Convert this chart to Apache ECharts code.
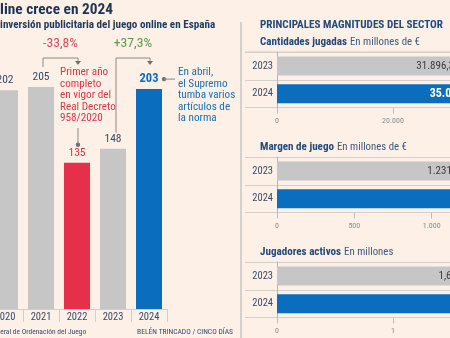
<!DOCTYPE html>
<html>
<head>
<meta charset="utf-8">
<script src="https://cdn.jsdelivr.net/npm/echarts@6/dist/echarts.min.js"></script>
<style>
  html, body { margin: 0; padding: 0; background: #fcf0e7; overflow: hidden; }
  #chart { width: 450px; height: 338px; }
</style>
</head>
<body>
<div id="chart"></div>
<script>
// Inversión publicitaria del juego online (millones de €)
const years = ['2020', '2021', '2022', '2023', '2024'];
const adSpend = [202, 205, 135, 148, 203];
const changeLabels = ['-33,8%', '+37,3%'];

// Principales magnitudes del sector
const sectorYears = ['2023', '2024'];
const wagered = [31896.3, 35074.8];      // Cantidades jugadas, millones de €
const grossMargin = [1231.6, 1402.3];    // Margen de juego, millones de €
const activePlayers = [1.62, 1.81];      // Jugadores activos, millones

const wageredTicks = [0, 20000, 40000];
const marginTicks = [0, 500, 1000, 1500];
const playersTicks = [0, 1, 2];

const FONT = '"Roboto Condensed", "Roboto", sans-serif';
const NAVY = '#1f3a5f';
const TEXT = '#3a4a68';
const GRAY_BAR = '#c6c6c6';
const RED = '#e62f4b';
const BLUE = '#0b6dbd';
const RULE = '#d3d0cc';

function fmtEs(v, dec) {
  const s = Number(v).toFixed(dec);
  const parts = s.split('.');
  const intPart = parts[0].replace(/\B(?=(\d{3})+(?!\d))/g, '.');
  return parts[1] ? intPart + ',' + parts[1] : intPart;
}

// text measuring helpers for the annotation layer
const measure = document.createElement('canvas').getContext('2d');
function textWidth(str, weight, size) {
  measure.font = weight + ' ' + size + 'px ' + FONT;
  return measure.measureText(str).width;
}
function fitSize(str, weight, width) {
  return 100 * width / textWidth(str, weight, 100);
}

const chart = echarts.init(document.getElementById('chart'), null, { renderer: 'canvas' });

function barColor(i) {
  if (i === 2) return RED;
  if (i === 4) return BLUE;
  return GRAY_BAR;
}
function barLabel(i) {
  if (i === 2) return { color: RED, fontWeight: 'normal' };
  if (i === 4) return { color: BLUE, fontWeight: 'bold', fontSize: 12.5 };
  return { color: TEXT, fontWeight: 'normal' };
}

// Horizontal panels share one layout recipe
function hPanel(idx, top, ticks) {
  return {
    grid: { left: 277, top: top, height: 55.5, width: 232, outerBoundsMode: 'none', containLabel: false },
    xAxis: {
      type: 'value', gridIndex: idx,
      min: ticks[0], max: ticks[ticks.length - 1], interval: ticks[1] - ticks[0],
      axisLine: { show: false },
      axisTick: { show: true, length: 6, lineStyle: { color: '#bdbdbd' } },
      splitLine: { show: false },
      axisLabel: { margin: 9, fontSize: 8, color: '#8a8a8a', fontFamily: FONT,
        formatter: v => fmtEs(v, 0) }
    },
    yAxis: {
      type: 'category', gridIndex: idx, data: sectorYears, inverse: true,
      axisLine: { show: true, lineStyle: { color: '#b5b5b5' } },
      axisTick: { show: true, length: 32, lineStyle: { color: RULE } },
      splitLine: { show: true, lineStyle: { color: RULE } },
      axisLabel: { margin: 4, fontSize: 10.5, color: TEXT, fontFamily: FONT }
    }
  };
}

const panels = [
  hPanel(1, 52, wageredTicks),
  hPanel(2, 157, marginTicks),
  hPanel(3, 262, playersTicks)
];
const panelData = [
  { data: wagered, dec: 1 },
  { data: grossMargin, dec: 1 },
  { data: activePlayers, dec: 2 }
];

const option = {
  backgroundColor: '#fcf0e7',
  animation: false,
  grid: [
    { left: -13, top: 38.2, width: 180, height: 270.8, outerBoundsMode: 'none', containLabel: false },
    panels[0].grid, panels[1].grid, panels[2].grid
  ],
  xAxis: [
    {
      type: 'category', gridIndex: 0, data: years,
      axisLine: { show: true, lineStyle: { color: '#cfcfcf' } },
      axisTick: { show: true, length: 13, lineStyle: { color: '#cfcfcf' } },
      axisLabel: { margin: 3, fontSize: 10.5, color: TEXT, fontFamily: FONT }
    },
    panels[0].xAxis, panels[1].xAxis, panels[2].xAxis
  ],
  yAxis: [
    { type: 'value', gridIndex: 0, min: 0, max: 250, show: false },
    panels[0].yAxis, panels[1].yAxis, panels[2].yAxis
  ],
  series: [
    {
      type: 'bar', xAxisIndex: 0, yAxisIndex: 0, barWidth: 26,
      data: adSpend.map((v, i) => ({
        value: v,
        itemStyle: { color: barColor(i) },
        label: barLabel(i)
      })),
      label: { show: true, position: 'top', distance: 4, fontSize: 11.5, fontFamily: FONT }
    }
  ].concat(panelData.map((p, k) => ({
    type: 'bar', xAxisIndex: k + 1, yAxisIndex: k + 1, barWidth: 19,
    data: p.data.map((v, i) => ({
      value: v,
      itemStyle: { color: i === 0 ? GRAY_BAR : BLUE },
      label: i === 0 ? { color: '#3c3c3c', fontWeight: 'normal' } : { color: '#ffffff', fontWeight: 'bold', fontSize: 12 }
    })),
    label: {
      show: true, position: 'insideRight', distance: 8, fontSize: 11, fontFamily: FONT,
      formatter: prm => fmtEs(prm.value, p.dec)
    }
  })))
};

chart.setOption(option);

// Annotation layer anchored to the bar positions
function px(i, v) { return chart.convertToPixel({ xAxisIndex: 0, yAxisIndex: 0 }, [i, v]); }
const p21 = px(1, adSpend[1]);
const p22 = px(2, adSpend[2]);
const p23 = px(3, adSpend[3]);
const p24 = px(4, adSpend[4]);

const lineStyle = { stroke: '#8a8a8a', lineWidth: 1, fill: null };
const bracketY = 58;

function arrow(x, y) {
  return { type: 'polygon', shape: { points: [[x - 3, y], [x + 3, y], [x, y + 4]] }, style: { fill: '#707070' } };
}
function font(weight, size) { return weight + ' ' + size.toFixed(2) + 'px ' + FONT; }

const titleSize = fitSize('line crece en 2024', 'bold', 113);
const subSize = fitSize('inversión publicitaria del juego online en España', 'bold', 215);
const srcSize = fitSize('eral de Ordenación del Juego', 'normal', 86);
const creditSize = fitSize('BELÉN TRINCADO / CINCO DÍAS', 'normal', 96);
const noteSize = fitSize('en vigor del', 'normal', 51);
const pctSize = fitSize('-33,8%', 'normal', 35);
const headSize = fitSize('PRINCIPALES MAGNITUDES DEL SECTOR', 'bold', 183);
const secBoldSize = fitSize('Cantidades jugadas', 'bold', 87);
const secUnitSize = fitSize('En millones de €', 'normal', 70);

const a1 = p21[0] + 2, b1 = p22[0] + 1;
const a2 = p23[0] + 3, b2 = p24[0] + 1;

const graphics = [
  // divider between the two blocks
  { type: 'line', shape: { x1: 241, y1: 22, x2: 241, y2: 338 }, style: { stroke: '#c9c6c2', lineWidth: 1.5 } },

  { type: 'text', x: -textWidth('El juego on', 'bold', titleSize), y: 10.5,
    style: { text: 'El juego online crece en 2024', font: font('bold', titleSize), fill: '#1c3553', textVerticalAlign: 'middle' } },
  { type: 'text', x: -textWidth('Evolución de la ', 'bold', subSize), y: 25.5,
    style: { text: 'Evolución de la inversión publicitaria del juego online en España', font: font('bold', subSize), fill: NAVY, textVerticalAlign: 'middle' } },

  // -33,8 % bracket
  { type: 'polyline', shape: { points: [[a1, p21[1] - 20], [a1, bracketY], [b1, bracketY], [b1, bracketY + 3]] }, style: lineStyle },
  arrow(b1, bracketY + 3),
  { type: 'text', x: (a1 + b1) / 2, y: 44,
    style: { text: changeLabels[0], font: font('normal', pctSize), fill: '#e04a60', textAlign: 'center', textVerticalAlign: 'middle' } },
  { type: 'text', x: 60, y: 66.5,
    style: { text: 'Primer año\ncompleto\nen vigor del\nReal Decreto\n958/2020', font: font('normal', noteSize),
      fill: '#e2354f', lineHeight: 11.6, textVerticalAlign: 'top' } },
  { type: 'line', shape: { x1: b1, y1: 128, x2: b1, y2: p22[1] - 18 }, style: lineStyle },
  { type: 'circle', shape: { cx: b1, cy: p22[1] - 18, r: 2.2 }, style: { fill: '#707070' } },

  // +37,3 % bracket
  { type: 'polyline', shape: { points: [[a2, p23[1] - 16], [a2, bracketY], [b2, bracketY], [b2, bracketY + 3]] }, style: lineStyle },
  arrow(b2, bracketY + 3),
  { type: 'text', x: (a2 + b2) / 2, y: 44,
    style: { text: changeLabels[1], font: font('normal', pctSize), fill: '#5e9a4e', textAlign: 'center', textVerticalAlign: 'middle' } },

  // note on the 2024 bar
  { type: 'circle', shape: { cx: p24[0] + 15, cy: p24[1] - 10, r: 2.2 }, style: { fill: '#707070' } },
  { type: 'line', shape: { x1: p24[0] + 15, y1: p24[1] - 10, x2: p24[0] + 26, y2: p24[1] - 10 }, style: lineStyle },
  { type: 'text', x: 178, y: 66.5,
    style: { text: 'En abril,\nel Supremo\ntumba varios\nartículos de\nla norma', font: font('normal', noteSize),
      fill: '#1e6fb3', lineHeight: 11.6, textVerticalAlign: 'top' } },

  // credits
  { type: 'text', x: -textWidth('Fuente: Dirección Gen', 'normal', srcSize), y: 332,
    style: { text: 'Fuente: Dirección General de Ordenación del Juego', font: font('normal', srcSize), fill: TEXT, textVerticalAlign: 'middle' } },
  { type: 'text', x: 137, y: 332,
    style: { text: 'BELÉN TRINCADO / CINCO DÍAS', font: font('normal', creditSize), fill: TEXT, textVerticalAlign: 'middle' } },

  // right block headings
  { type: 'text', x: 260, y: 25.5,
    style: { text: 'PRINCIPALES MAGNITUDES DEL SECTOR', font: font('bold', headSize), fill: '#234a78', textVerticalAlign: 'middle' } },
  { type: 'line', shape: { x1: 245, y1: 52, x2: 450, y2: 52 }, style: { stroke: RULE, lineWidth: 1 } }
];

const headings = [
  ['Cantidades jugadas', 'En millones de €', 42],
  ['Margen de juego', 'En millones de €', 147],
  ['Jugadores activos', 'En millones', 252.5]
];
headings.forEach(h => {
  const boldW = textWidth(h[0], 'bold', secBoldSize);
  graphics.push({ type: 'text', x: 260, y: h[2],
    style: { text: h[0], font: font('bold', secBoldSize), fill: '#234a78', textVerticalAlign: 'middle' } });
  graphics.push({ type: 'text', x: 260 + boldW + 3, y: h[2],
    style: { text: h[1], font: font('normal', secUnitSize), fill: '#3f5a80', textVerticalAlign: 'middle' } });
});

chart.setOption({ graphic: graphics });
</script>
</body>
</html>
